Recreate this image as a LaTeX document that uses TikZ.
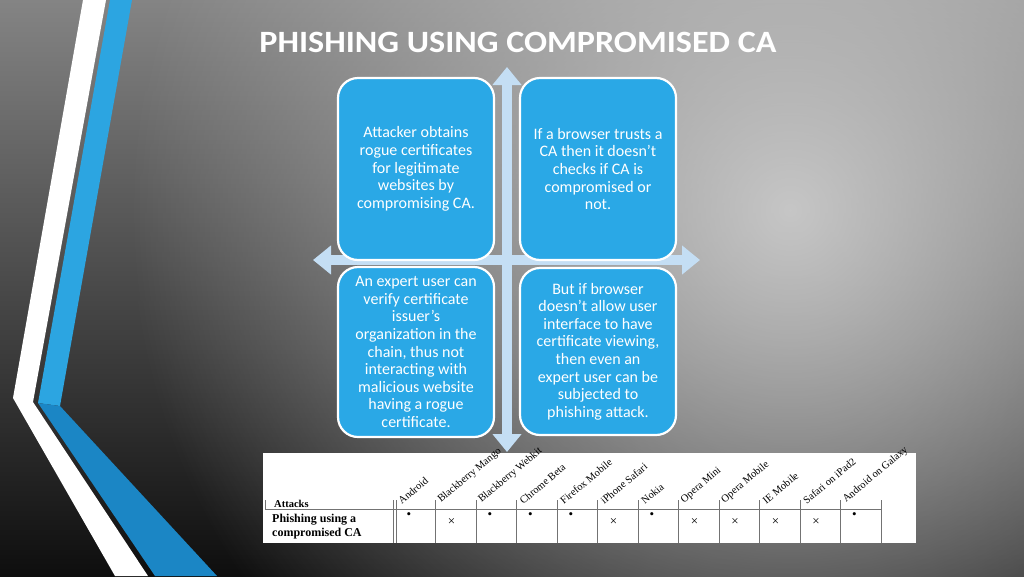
\documentclass[tikz,border=0pt]{standalone}
\usepackage{fontspec}
\usepackage{graphicx}
\setmainfont{Carlito}
\newfontfamily\tablefont{Liberation Serif}
\usetikzlibrary{
    positioning,
    arrows.meta,
    fadings
}
\definecolor{cardblue}{RGB}{42,168,230}
\definecolor{stripeblue}{RGB}{44,165,225}
\definecolor{stripedark}{RGB}{27,134,197}
\definecolor{crossblue}{RGB}{196,222,244}
\definecolor{glowgray}{RGB}{198,198,198}
\definecolor{topgray}{RGB}{132,132,132}
\definecolor{bottomgray}{RGB}{14,14,14}
\tikzfading[name=glowfade, inner color=transparent!0, outer color=transparent!100]
\tikzset{
    >=Stealth,
    card/.style={
        draw=white,
        line width=2.2pt,
        fill=cardblue,
        rounded corners=20pt,
        minimum width=156pt,
        text=white,
        align=center,
        inner sep=0pt,
        font=\fontsize{16}{17.6}\selectfont
    },
    crossarrow/.style={
        draw=crossblue,
        line width=10pt,
        {Triangle[width=28pt,length=18pt]}-{Triangle[width=28pt,length=18pt]}
    },
    colhead/.style={
        font=\tablefont\fontsize{10.5}{10.5}\selectfont,
        rotate=40,
        anchor=south west,
        inner sep=0pt
    },
    tabrule/.style={draw=black!55, line width=0.7pt},
    tabmark/.style={font=\tablefont\fontsize{13}{13}\selectfont, inner sep=0pt}
}

\begin{document}
\begin{tikzpicture}[x=1pt, y=-1pt]

    \useasboundingbox (0,0) rectangle (1024,576);

    % Fondo
    \shade[top color=topgray, bottom color=bottomgray] (0,0) rectangle (1024,576);
    \begin{scope}
        \clip (0,0) rectangle (1024,576);
        \fill[glowgray, path fading=glowfade] (790,210) circle (660);
    \end{scope}

    % Franjas
    \fill[white] (83,0) -- (106,0) -- (33,402) -- (148,576) -- (115,576) -- (13,398) -- cycle;
    \fill[stripeblue] (110,0) -- (132,0) -- (60,406) -- (38,403) -- cycle;
    \fill[stripedark] (38,403) -- (60,406) -- (217,576) -- (155,576) -- cycle;

    % Titulo
    \node[text=white, font=\bfseries\fontsize{31}{31}\selectfont, anchor=base, inner sep=0pt]
        (titulo) at (518,52) {\scalebox{1.1}[1]{PHISHING USING COMPROMISED CA}};

    % Flechas
    \coordinate (up)    at (507,67);
    \coordinate (down)  at (507,452);
    \coordinate (left)  at (313,260);
    \coordinate (right) at (700,260);
    \draw[crossarrow] (down) -- (up);
    \draw[crossarrow] (left) -- (right);

    % Cajas
    \node[card, minimum height=182pt] (tl) at (416,169)
        {Attacker obtains\\rogue certificates\\for legitimate\\websites by\\compromising CA.};
    \node[card, minimum height=182pt] (tr) at (598,169)
        {If a browser trusts a\\CA then it doesn’t\\checks if CA is\\compromised or\\not.};
    \node[card, minimum height=170pt] (bl) at (416,352)
        {An expert user can\\verify certificate\\issuer’s\\organization in the\\chain, thus not\\interacting with\\malicious website\\having a rogue\\certificate.};
    \node[card, minimum height=167pt] (br) at (598,351.5)
        {But if browser\\doesn’t allow user\\interface to have\\certificate viewing,\\then even an\\expert user can be\\subjected to\\phishing attack.};

    % Tabla
    \fill[white] (263,453) rectangle (916,543);
    \draw[tabrule] (265,509) -- (881,509);
    \draw[tabrule] (265,500) -- (265,509);
    \draw[tabrule] (393,500) -- (393,543);
    \draw[tabrule] (396,500) -- (396,543);
    \foreach \i in {1,...,12}
        \draw[tabrule] (395+40.5*\i,500) -- (395+40.5*\i,543);

    \node[font=\tablefont\bfseries\fontsize{10.5}{10.5}\selectfont, anchor=base west, inner sep=0pt]
        (attacks) at (274,507) {Attacks};
    \node[font=\tablefont\bfseries\fontsize{12}{13.5}\selectfont, align=left, anchor=north west, inner sep=0pt]
        (phishing) at (272,514) {Phishing using a\\compromised CA};

    \foreach \name [count=\i from 0] in {Android, Blackberry Mango, Blackberry Webkit,
        Chrome Beta, Firefox Mobile, iPhone Safari, Nokia, Opera Mini, Opera Mobile,
        IE Mobile, Safari on iPad2, Android on Galaxy}
        \node[colhead] (col\i) at (395+40.5*\i+7,505) {\name};

    \foreach \i in {0,2,3,4,6,11}
        \node[tabmark] (dot\i) at (395+40.5*\i+14,516) {\textbullet};
    \foreach \i in {1,5,7,8,9,10}
        \node[tabmark] (cross\i) at (395+40.5*\i+16,522) {×};

\end{tikzpicture}
\end{document}
